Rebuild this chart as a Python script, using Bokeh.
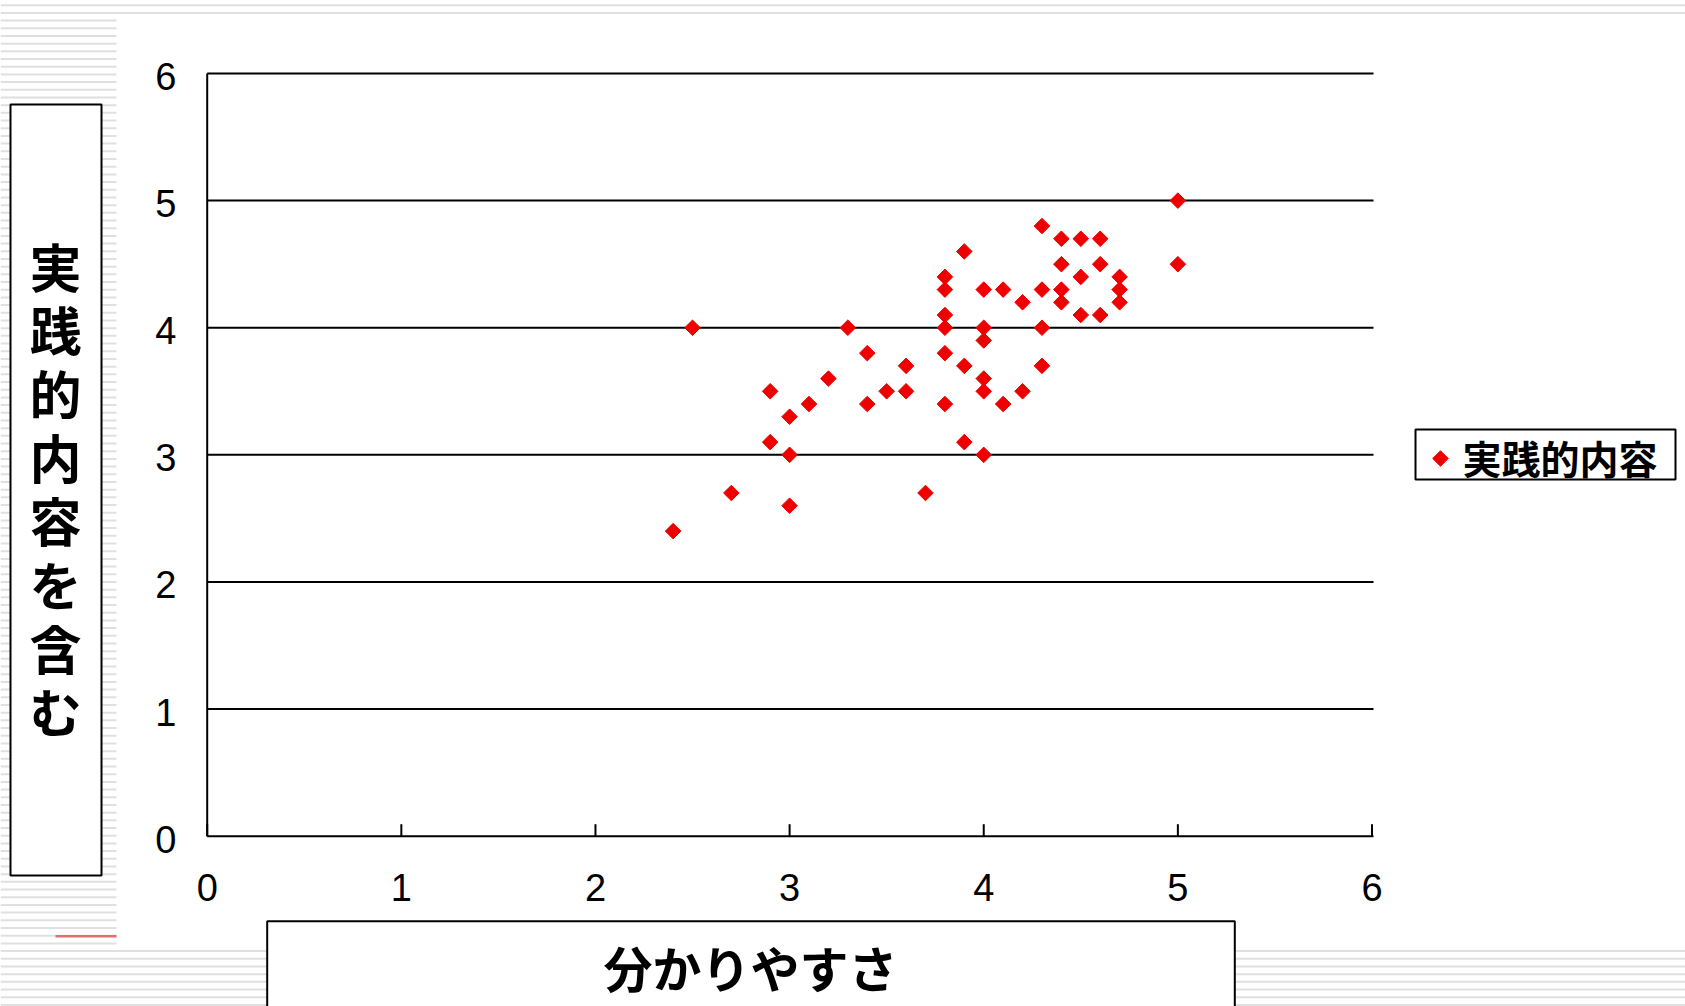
import numpy as np
from bokeh.plotting import figure
from bokeh.models import Range1d
from bokeh.core.properties import value
from bokeh.embed import file_html
from bokeh.resources import INLINE

# Survey averages per respondent group: ease of understanding vs. practical content
understand = [2.4, 2.5, 2.7, 2.9, 2.9, 3.0, 3.0, 3.0, 3.1, 3.2, 3.3, 3.4, 3.4, 3.5,
              3.6, 3.6, 3.7, 3.8, 3.8, 3.8, 3.8, 3.8, 3.8, 3.9, 3.9, 3.9, 4.0, 4.0,
              4.0, 4.0, 4.0, 4.0, 4.1, 4.1, 4.2, 4.2, 4.3, 4.3, 4.3, 4.3, 4.4, 4.4,
              4.4, 4.4, 4.5, 4.5, 4.5, 4.6, 4.6, 4.6, 4.7, 4.7, 4.7, 5.0, 5.0]
practical = [2.4, 4.0, 2.7, 3.5, 3.1, 3.3, 3.0, 2.6, 3.4, 3.6, 4.0, 3.8, 3.4, 3.5,
             3.7, 3.5, 2.7, 4.4, 4.3, 4.1, 4.0, 3.8, 3.4, 4.6, 3.7, 3.1, 4.3, 4.0,
             3.9, 3.6, 3.5, 3.0, 4.3, 3.4, 4.2, 3.5, 4.8, 4.3, 4.0, 3.7, 4.7, 4.5,
             4.3, 4.2, 4.7, 4.4, 4.1, 4.7, 4.5, 4.1, 4.4, 4.3, 4.2, 5.0, 4.5]

x_ticks = [0, 1, 2, 3, 4, 5, 6]
y_ticks = [0, 1, 2, 3, 4, 5, 6]
x_title = "分かりやすさ"
y_title = "実践的内容を含む"
series_name = "実践的内容"

# ---- page geometry (pixels on the 1685 x 1006 slide) ----
W, H = 1685, 1006
PX0, PX6 = 206.7, 1371.5      # x = 0 and x = 6
PY0, PY6 = 835.7, 73.0        # y = 0 and y = 6
ux = (PX6 - PX0) / 6.0
uy = (PY0 - PY6) / 6.0


def dx(px):
    return (px - PX0) / ux


def dy(py):
    return (PY0 - py) / uy


p = figure(width=W, height=H, output_backend="svg", toolbar_location=None,
           x_range=Range1d(dx(0), dx(W)), y_range=Range1d(dy(H), dy(0)),
           x_axis_location=None, y_axis_location=None, min_border=0)
p.outline_line_color = None
p.background_fill_color = "white"
p.border_fill_color = "white"
p.xgrid.visible = False
p.ygrid.visible = False

# ---- striped slide template ----
stripe_y = [dy(4.7 + 7.69 * k) for k in range(131)]
p.segment(x0=dx(0), x1=dx(W), y0=stripe_y, y1=stripe_y, line_color="#e0e0e0", line_width=2)
p.quad(left=dx(116), right=dx(W), top=dy(14), bottom=dy(947.5),
       fill_color="white", line_color=None)
p.segment(x0=dx(55), x1=dx(116), y0=dy(935.7), y1=dy(935.7), line_color="#e07070", line_width=2.5)

# ---- title boxes ----
p.quad(left=dx(10), right=dx(101), top=dy(104), bottom=dy(875),
       fill_color="white", line_color="black", line_width=2)
p.quad(left=dx(266.7), right=dx(1234.3), top=dy(920.7), bottom=dy(1015),
       fill_color="white", line_color="black", line_width=2)

cjk = value("Noto Sans CJK JP")
lat = value("Liberation Sans")

chars = list(y_title)
p.text(x=[dx(55)] * len(chars), y=[dy(264.5 + 63.7 * i) for i in range(len(chars))],
       text=chars, text_font=cjk, text_font_style="bold", text_font_size="52px",
       text_align="center", text_baseline="middle", text_color="black")
p.text(x=[dx(750)], y=[dy(966)], text=[x_title], text_font=cjk, text_font_style="bold",
       text_font_size="49px", text_align="center", text_baseline="middle", text_color="black")

# ---- gridlines and axes ----
grid_y = [t for t in y_ticks if t > 0]
p.segment(x0=0, x1=dx(1373), y0=grid_y, y1=grid_y, line_color="black", line_width=2)
p.segment(x0=[0, 0], x1=[0, dx(1373)], y0=[0, 0], y1=[6, 0], line_color="black", line_width=2)
p.segment(x0=x_ticks, x1=x_ticks, y0=0, y1=dy(PY0 - 12), line_color="black", line_width=2)

p.text(x=[dx(176)] * len(y_ticks), y=y_ticks, text=[str(t) for t in y_ticks],
       text_font=lat, text_font_size="38px", text_align="right", text_baseline="middle",
       text_color="black", y_offset=3)
p.text(x=x_ticks, y=[dy(887)] * len(x_ticks), text=[str(t) for t in x_ticks],
       text_font=lat, text_font_size="38px", text_align="center", text_baseline="middle",
       text_color="black")

# ---- data ----
p.scatter(x=understand, y=practical, marker="square", angle=np.pi / 4, size=11,
          fill_color="#ee0000", line_color="#ee0000")

# ---- legend ----
p.quad(left=dx(1415), right=dx(1675), top=dy(429), bottom=dy(479),
       fill_color="white", line_color="black", line_width=2)
p.scatter(x=[dx(1440)], y=[dy(458)], marker="square", angle=np.pi / 4, size=11,
          fill_color="#ee0000", line_color="#ee0000")
p.text(x=[dx(1462)], y=[dy(456)], text=[series_name], text_font=cjk, text_font_style="bold",
       text_font_size="39px", text_align="left", text_baseline="middle", text_color="black")

open("out.html", "w").write(file_html(p, INLINE))
